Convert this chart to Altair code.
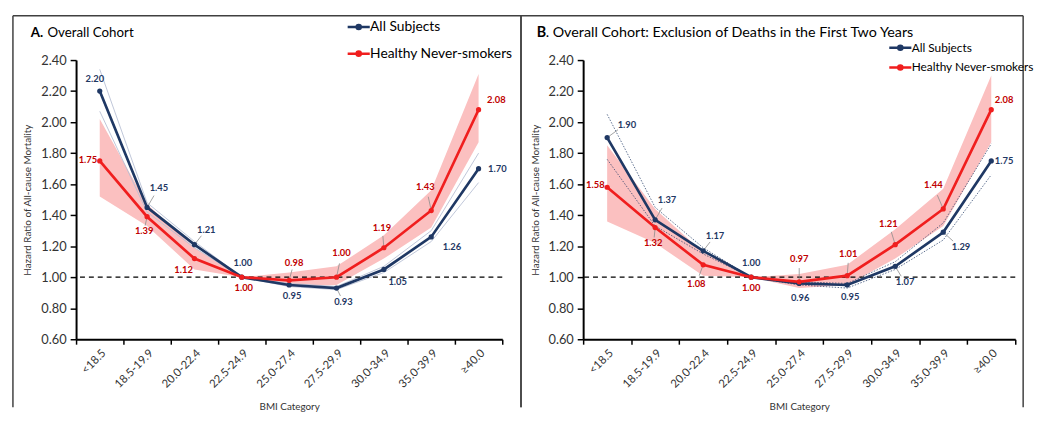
import altair as alt
import pandas as pd

CATS = ["<18.5", "18.5-19.9", "20.0-22.4", "22.5-24.9", "25.0-27.4",
        "27.5-29.9", "30.0-34.9", "35.0-39.9", "≥40.0"]
SERIES = ["All Subjects", "Healthy Never-smokers"]

# Panel A: Overall Cohort
A_ALL = [2.20, 1.45, 1.21, 1.00, 0.95, 0.93, 1.05, 1.26, 1.70]
A_ALL_LO = [2.07, 1.42, 1.19, 1.00, 0.94, 0.92, 1.03, 1.23, 1.61]
A_ALL_HI = [2.34, 1.48, 1.23, 1.00, 0.96, 0.94, 1.07, 1.30, 1.80]
A_HNS = [1.75, 1.39, 1.12, 1.00, 0.98, 1.00, 1.19, 1.43, 2.08]
A_HNS_LO = [1.52, 1.33, 1.05, 1.00, 0.94, 0.95, 1.12, 1.32, 1.87]
A_HNS_HI = [2.02, 1.47, 1.19, 1.00, 1.03, 1.07, 1.27, 1.56, 2.31]

# Panel B: Exclusion of deaths in the first two years
B_ALL = [1.90, 1.37, 1.17, 1.00, 0.96, 0.95, 1.07, 1.29, 1.75]
B_ALL_LO = [1.76, 1.33, 1.15, 1.00, 0.95, 0.93, 1.05, 1.24, 1.66]
B_ALL_HI = [2.05, 1.45, 1.19, 1.00, 0.97, 0.96, 1.10, 1.35, 1.86]
B_HNS = [1.58, 1.32, 1.08, 1.00, 0.97, 1.01, 1.21, 1.44, 2.08]
B_HNS_LO = [1.36, 1.22, 1.01, 1.00, 0.93, 0.95, 1.12, 1.33, 1.87]
B_HNS_HI = [1.85, 1.44, 1.16, 1.00, 1.02, 1.08, 1.31, 1.57, 2.30]

# label placement (pixel offsets from the point) - styling only
A_ALL_OFF = [(-5, -12), (12, -20), (12, -15), (1, -14), (3, 11), (7, 14), (14, 13), (21, 10), (19, 0)]
A_HNS_OFF = [(-12, -1), (-3, 15), (-11, 12), (2, 11), (5, -18), (5, -24), (-2, -20), (-6, -24), (18, -10)]
B_ALL_OFF = [(20, -13), (12, -20), (12, -15), (0, -14), (1, 15), (3, 12), (10, 16), (18, 15), (13, 0)]
B_HNS_OFF = [(-12, -2), (-2, 16), (-7, 19), (0, 11), (0, -23), (1, -22), (-7, -21), (-10, -24), (13, -10)]
# which labels have a leader line (0-8 all subjects, 9-17 healthy never-smokers)
A_LEADERS = [1, 2, 5, 10, 13, 14, 15, 16]
B_LEADERS = [0, 1, 2, 6, 7, 10, 11, 13, 14, 15, 16]

NAVY = "#1F3864"
RED = "#F01E1E"
RED_TXT = "#C00000"
PINK = "#FBC0C0"
FONT = "Lato"
LEG_SYMBOL = "M-1.6,0H1.6M-0.3,0A0.3,0.3,0,1,1,0.3,0A0.3,0.3,0,1,1,-0.3,0Z"


def panel(vals, offs, leaders, width, title_bold, title_rest, rest_dx, title_size, ci_dotted, leg, frame):
    all_v, all_lo, all_hi, hns_v, hns_lo, hns_hi = vals
    df = pd.DataFrame({
        "cat": CATS * 2,
        "series": [SERIES[0]] * 9 + [SERIES[1]] * 9,
        "value": all_v + hns_v,
        "lo": all_lo + hns_lo,
        "hi": all_hi + hns_hi,
        "label": [f"{v:.2f}" for v in all_v + hns_v],
        "idx": list(range(18)),
    })
    base = alt.Chart(df)
    xenc = alt.X(
        "cat:O", sort=CATS,
        scale=alt.Scale(type="band", paddingInner=0, paddingOuter=0),
        axis=alt.Axis(title="BMI Category", labelAngle=-45, tickBand="extent",
                      domainColor="black", domainWidth=2, tickColor="black",
                      tickWidth=1.5, tickSize=5, labelFontSize=11.5, labelColor="#333",
                      labelFont=FONT, titleFont=FONT, titleFontSize=10,
                      titleFontWeight="normal", titleColor="#333", titlePadding=12,
                      labelPadding=3),
    )
    ysc = alt.Scale(domain=[0.6, 2.4], nice=False, zero=False)
    yax = alt.Axis(title="Hazard Ratio of All-cause Mortality",
                   values=[round(0.6 + 0.2 * i, 2) for i in range(10)],
                   format=".2f", grid=False, domainColor="black", domainWidth=2,
                   tickColor="black", tickWidth=1.5, tickSize=6, labelFontSize=13,
                   labelColor="#333", labelFont=FONT, titleFont=FONT, titleFontSize=10,
                   titleFontWeight="normal", titleColor="#333", titlePadding=8,
                   labelPadding=4, labelOverlap=False, labelFlush=False)

    def yenc(field):
        return alt.Y(field, scale=ysc, axis=yax)

    one = alt.Chart(pd.DataFrame({"k": [0]}))
    fl, fr, ft, fb = frame
    fkw = dict(color="#404040", strokeWidth=1.5)
    frame_layers = [
        one.mark_rule(**fkw).encode(x=alt.value(fl), y=alt.value(ft), y2=alt.value(fb)),
        one.mark_rule(**fkw).encode(x=alt.value(fr), y=alt.value(ft), y2=alt.value(fb)),
        one.mark_rule(**fkw).encode(x=alt.value(fl), x2=alt.value(fr), y=alt.value(ft)),
    ]

    band = base.transform_filter(alt.datum.series == SERIES[1]).mark_area(
        color=PINK, opacity=1).encode(x=xenc, y=yenc("lo:Q"), y2="hi:Q")

    if ci_dotted:
        ci_kw = dict(color=NAVY, strokeWidth=0.8, strokeDash=[1.5, 1.5], opacity=0.9)
    else:
        ci_kw = dict(color="#B8C0D4", strokeWidth=0.9)
    asd = base.transform_filter(alt.datum.series == SERIES[0])
    ci_lo = asd.mark_line(**ci_kw).encode(x=xenc, y=yenc("lo:Q"))
    ci_hi = asd.mark_line(**ci_kw).encode(x=xenc, y=yenc("hi:Q"))

    ref = one.mark_rule(color="black", strokeDash=[5, 4], strokeWidth=1.2).encode(
        y=alt.datum(1.0, scale=ysc, axis=yax))

    color = alt.Color(
        "series:N", scale=alt.Scale(domain=SERIES, range=[NAVY, RED]),
        legend=alt.Legend(title=None, orient="none", legendX=leg[0], legendY=leg[1],
                          symbolType=LEG_SYMBOL, symbolSize=196, symbolStrokeWidth=2.5,
                          labelFontSize=leg[2], labelFont=FONT, labelColor="black",
                          rowPadding=leg[3], labelOffset=3, padding=0),
    )
    all_offs = offs[0] + offs[1]
    leader_layers = []
    for i in leaders:
        dx, dy = all_offs[i]
        leader_layers.append(
            base.transform_filter(alt.datum.idx == i).mark_rule(
                color="#8C8C8C", strokeWidth=0.8,
                x2Offset=round(dx * 0.55), y2Offset=round(dy * 0.6)
            ).encode(x=xenc, y=yenc("value:Q"), x2="cat:O", y2="value:Q")
        )
    lines = base.mark_line(strokeWidth=2.7).encode(x=xenc, y=yenc("value:Q"), color=color)
    pts = base.mark_circle(size=28, opacity=1).encode(
        x=xenc, y=yenc("value:Q"), color=alt.Color("series:N", legend=None))

    layers = frame_layers + [band, ci_lo, ci_hi, ref] + leader_layers + [lines, pts]
    for i in range(18):
        dx, dy = all_offs[i]
        layers.append(
            base.transform_filter(alt.datum.idx == i).mark_text(
                dx=dx, dy=dy, fontSize=9.5, fontWeight="bold", font=FONT,
                color=NAVY if i < 9 else RED_TXT
            ).encode(x=xenc, y=yenc("value:Q"), text="label:N")
        )
    layers.append(one.mark_text(align="left", baseline="middle", fontSize=title_size, fontWeight="bold",
                                font=FONT, color="black", text=title_bold)
                  .encode(x=alt.value(-46 if width < 435 else -47), y=alt.value(-27)))
    layers.append(one.mark_text(align="left", baseline="middle", fontSize=title_size, font=FONT,
                                color="black", text=title_rest)
                  .encode(x=alt.value(rest_dx), y=alt.value(-27)))
    return alt.layer(*layers).properties(width=width, height=283)


pa = panel((A_ALL, A_ALL_LO, A_ALL_HI, A_HNS, A_HNS_LO, A_HNS_HI), (A_ALL_OFF, A_HNS_OFF), A_LEADERS,
           432, "A.", "Overall Cohort", -29, 13.5, False, (278, -42, 14, 11), (-64, 451, -45, 352))
pb = panel((B_ALL, B_ALL_LO, B_ALL_HI, B_HNS, B_HNS_LO, B_HNS_HI), (B_ALL_OFF, B_HNS_OFF), B_LEADERS,
           438, "B", ". Overall Cohort: Exclusion of Deaths in the First Two Years", -38, 14.5, True,
           (313, -21, 12, 4), (-63, 446, -45, 352))

chart = alt.hconcat(pa, pb, spacing=-2).resolve_scale(color="independent").configure(
    background="white", padding={"left": 4, "top": 4, "right": 0, "bottom": 0}).configure_view(stroke=None)

chart.save("out.html", embed_options={"renderer": "svg", "actions": False})
